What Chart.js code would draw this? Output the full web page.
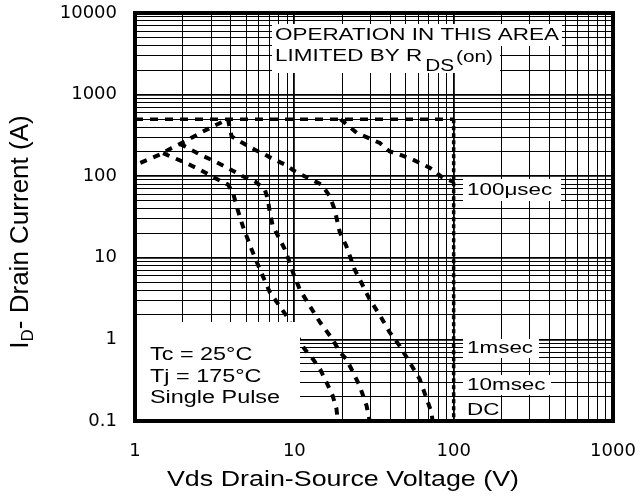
<!DOCTYPE html>
<html><head><meta charset="utf-8">
<script src="https://cdn.jsdelivr.net/npm/chart.js@4.4.1/dist/chart.umd.min.js"></script>
<style>html,body{margin:0;padding:0;background:#fff;}</style>
</head><body>
<canvas id="c" width="642" height="499"></canvas>
<script>
// ---- tick values / labels ----
const xTickValues = [1,2,3,4,5,6,7,8,9,10,20,30,40,50,60,70,80,90,100,200,300,400,500,600,700,800,900,1000];
const xTickLabels = ['1','10','100','1000'];
const yTickValues = [0.1,0.2,0.3,0.4,0.5,0.6,0.7,0.8,0.9,1,2,3,4,5,6,7,8,9,10,20,30,40,50,60,70,80,90,100,200,300,400,500,600,700,800,900,1000,2000,3000,4000,5000,6000,7000,8000,9000,10000];
const yTickLabels = ['0.1','1','10','100','1000','10000'];

// ---- curves (V, A) ----
const limV = [1, 100];
const limI = [500, 500];
const dcLimV = [100, 100];
const dcLimI = [500, 0.1];
const rdsV = [1.08, 1.43, 1.70, 2.06, 2.56, 3.08, 3.83];
const rdsI = [146, 184, 222, 267, 338, 407, 500];
const dcV = [1.5, 1.66, 2.06, 2.56, 3.17, 3.83, 4.12, 4.34, 4.75, 5.39, 6.08, 7.02, 8.93, 9.6, 11.6, 13.1, 14.5, 15.9, 17.4, 18.4, 18.7];
const dcI = [192, 175, 147, 120, 95, 79, 63, 42.9, 24.4, 12.7, 7.2, 3.78, 1.94, 1.46, 0.76, 0.573, 0.432, 0.30, 0.204, 0.14, 0.1];
const ms10V = [1.9, 2.06, 2.56, 3.17, 3.83, 4.75, 5.65, 6.53, 6.82, 7.02, 7.33, 8.11, 8.72, 9.37, 9.79, 10.8, 12.5, 14.5, 17.4, 19.3, 21.2, 23.3, 25.7, 28.4, 29.7];
const ms10I = [248, 232, 184, 152, 126, 99.7, 86.7, 68.6, 51.8, 35.9, 24.4, 16.8, 12.7, 8.7, 6.63, 4.11, 2.57, 1.62, 1.0, 0.70, 0.573, 0.40, 0.27, 0.154, 0.1];
const ms1V = [3.83, 4.04, 4.75, 5.65, 6.53, 7.33, 8.72, 10.07, 12.2, 14.8, 16.7, 17.9, 19.3, 21.2, 23.9, 25.7, 29.7, 34.4, 39.7, 45.9, 61.2, 72.5, 73.7];
const ms1I = [500, 307, 255, 211, 184, 163, 139, 115, 95, 79, 56.8, 39, 20.5, 13.9, 7.2, 5.45, 3.1, 1.98, 1.22, 0.83, 0.326, 0.128, 0.1];
const us100V = [19.5, 24.6, 34.4, 39.7, 45.9, 55.3, 70.7, 85.3, 100];
const us100I = [500, 341, 255, 201, 184, 160, 127, 96, 85];

const pts = (xs, ys) => xs.map((x, i) => ({x: x, y: ys[i]}));
const isDecade = v => v > 0 && Math.abs(Math.log10(v) - Math.round(Math.log10(v))) < 1e-6;
const labelFor = (v, labels) => { for (const l of labels) { if (Math.abs(Number(l) - v) < 1e-9 * Math.max(1, v)) return l; } return ''; };

const curve = (data, extra) => Object.assign({
  data: data, borderColor: '#000', borderWidth: 4, borderDash: [7, 7],
  pointRadius: 0, fill: false, tension: 0, borderCapStyle: 'butt'
}, extra || {});

const FONT = '"Liberation Sans", Arial, sans-serif';
function sText(ctx, text, x, y, size, stretch, align) {
  ctx.save();
  ctx.font = size + 'px ' + FONT;
  const w = ctx.measureText(text).width * stretch;
  let sx = x;
  if (align === 'center') sx = x - w / 2;
  ctx.translate(sx, y);
  ctx.scale(stretch, 1);
  ctx.textBaseline = 'middle';
  ctx.textAlign = 'left';
  ctx.fillStyle = '#000';
  ctx.fillText(text, 0, 0);
  ctx.restore();
  return w;
}
function whiteBox(ctx, x, y, w, h) { ctx.save(); ctx.fillStyle = '#fff'; ctx.fillRect(x, y, w, h); ctx.restore(); }

const decor = {
  id: 'decor',
  afterDraw(chart) {
    const ctx = chart.ctx, a = chart.chartArea;
    // RDS(on) note
    whiteBox(ctx, 272, 24, 290, 22);
    whiteBox(ctx, 272, 46, 228, 27);
    sText(ctx, 'OPERATION IN THIS AREA', 275, 35, 17, 1.32, 'left');
    let w = sText(ctx, 'LIMITED BY R', 275, 56, 17, 1.32, 'left');
    let w2 = sText(ctx, 'DS', 275 + w + 3, 67, 16, 1.3, 'left');
    sText(ctx, '(on)', 275 + w + 3 + w2 + 2, 58, 16, 1.3, 'left');
    // pulse labels
    whiteBox(ctx, 463, 179, 98, 22);
    sText(ctx, '100\u03bcsec', 467, 190, 17, 1.32, 'left');
    whiteBox(ctx, 463, 339, 76, 19);
    sText(ctx, '1msec', 467, 348, 17, 1.32, 'left');
    whiteBox(ctx, 463, 375, 88, 20);
    sText(ctx, '10msec', 467, 385, 17, 1.32, 'left');
    whiteBox(ctx, 463, 401, 38, 18);
    sText(ctx, 'DC', 467, 410, 17, 1.32, 'left');
    // conditions box
    whiteBox(ctx, a.left, 322, 300 - a.left, a.bottom - 322);
    sText(ctx, 'Tc = 25\u00b0C', 150, 355, 18, 1.3, 'left');
    sText(ctx, 'Tj = 175\u00b0C', 150, 377, 18, 1.3, 'left');
    sText(ctx, 'Single Pulse', 150, 398, 18, 1.3, 'left');
    // frame
    ctx.save();
    ctx.strokeStyle = '#000'; ctx.lineWidth = 4;
    ctx.strokeRect(a.left, a.top, a.right - a.left, a.bottom - a.top);
    ctx.restore();
    // x title
    sText(ctx, 'Vds Drain-Source Voltage (V)', 343, 480, 22, 1.22, 'center');
    // y title with subscript
    ctx.save();
    ctx.translate(21, 232);
    ctx.rotate(-Math.PI / 2);
    ctx.fillStyle = '#000';
    ctx.textBaseline = 'middle';
    ctx.font = '26px ' + FONT;
    const wI = ctx.measureText('I').width;
    const rest = '- Drain Current (A)';
    const wR = ctx.measureText(rest).width;
    ctx.font = '17px ' + FONT;
    const wD = ctx.measureText('D').width;
    const tot = wI + wD + wR;
    let x0 = -tot / 2;
    ctx.font = '26px ' + FONT;
    ctx.fillText('I', x0, 0);
    ctx.font = '17px ' + FONT;
    ctx.fillText('D', x0 + wI, 7);
    ctx.font = '26px ' + FONT;
    ctx.fillText(rest, x0 + wI + wD, 0);
    ctx.restore();
  }
};

const gridLW = c => (c.tick && isDecade(c.tick.value)) ? 1.8 : 1;

new Chart(document.getElementById('c'), {
  type: 'line',
  data: {
    datasets: [
      curve(pts(limV, limI), {borderWidth: 3.5, borderDash: [8, 7]}),
      curve(pts(dcLimV, dcLimI), {borderWidth: 3.5, borderDash: [4, 3]}),
      curve(pts(rdsV, rdsI)),
      curve(pts(dcV, dcI)),
      curve(pts(ms10V, ms10I)),
      curve(pts(ms1V, ms1I)),
      curve(pts(us100V, us100I))
    ]
  },
  options: {
    responsive: false,
    devicePixelRatio: 1,
    animation: false,
    layout: {padding: {top: 13, right: 29, left: 0, bottom: 0}},
    plugins: {legend: {display: false}, tooltip: {enabled: false}},
    scales: {
      x: {
        type: 'logarithmic', min: 1, max: 1000,
        afterBuildTicks: s => { s.ticks = xTickValues.map(v => ({value: v})); },
        afterFit: s => { s.height = 78; s.paddingLeft = 0; s.paddingRight = 0; },
        ticks: {autoSkip: false, maxRotation: 0, minRotation: 0, padding: 20, color: '#000',
          font: {family: 'DejaVu Sans', size: 18},
          callback: v => labelFor(v, xTickLabels)},
        grid: {color: '#000', lineWidth: gridLW, drawTicks: false},
        border: {display: false}
      },
      y: {
        type: 'logarithmic', min: 0.1, max: 10000,
        afterBuildTicks: s => { s.ticks = yTickValues.map(v => ({value: v})); },
        afterFit: s => { s.width = 135; s.paddingTop = 0; s.paddingBottom = 0; },
        ticks: {autoSkip: false, padding: 18, color: '#000',
          font: {family: 'DejaVu Sans', size: 18},
          callback: v => labelFor(v, yTickLabels)},
        grid: {color: '#000', lineWidth: gridLW, drawTicks: false},
        border: {display: false}
      }
    }
  },
  plugins: [decor]
});
</script>
</body></html>
